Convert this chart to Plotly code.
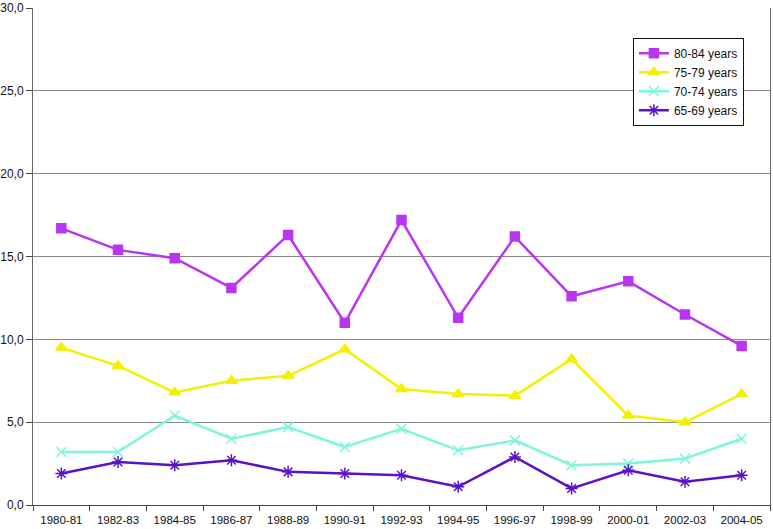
import plotly.graph_objects as go

categories = ["1980-81", "1982-83", "1984-85", "1986-87", "1988-89", "1990-91", "1992-93",
              "1994-95", "1996-97", "1998-99", "2000-01", "2002-03", "2004-05"]
y80_84 = [16.7, 15.4, 14.9, 13.1, 16.3, 11.0, 17.2, 11.3, 16.2, 12.6, 13.5, 11.5, 9.6]
y75_79 = [9.5, 8.4, 6.8, 7.5, 7.8, 9.4, 7.0, 6.7, 6.6, 8.8, 5.4, 5.0, 6.7]
y70_74 = [3.2, 3.2, 5.4, 4.0, 4.7, 3.5, 4.6, 3.3, 3.9, 2.4, 2.5, 2.8, 4.0]
y65_69 = [1.9, 2.6, 2.4, 2.7, 2.0, 1.9, 1.8, 1.1, 2.9, 1.0, 2.1, 1.4, 1.8]
y_ticks = [0, 5, 10, 15, 20, 25, 30]

series = [
    ("80-84 years", y80_84, "#B935F2", "square", 9),
    ("75-79 years", y75_79, "#F2F200", "triangle-up", 10),
    ("70-74 years", y70_74, "#7FF5DC", "x-thin-open", 10),
    ("65-69 years", y65_69, "#5A12C8", "asterisk-open", 10),
]

fig = go.Figure()
for name, vals, color, sym, size in series:
    fig.add_trace(go.Scatter(
        x=categories, y=vals, name=name, mode="lines+markers",
        line=dict(color=color, width=2.5),
        marker=dict(symbol=sym, size=size, color=color,
                    line=dict(color=color, width=1.5)),
    ))

fig.update_layout(
    width=773, height=529,
    margin=dict(l=33, r=3, t=8, b=24, autoexpand=False),
    paper_bgcolor="white", plot_bgcolor="white",
    separators=", ",
    font=dict(family="Liberation Sans, Arial, sans-serif", size=11, color="#111"),
    showlegend=True,
    legend=dict(x=0.814, y=0.94, xanchor="left", yanchor="top",
                bgcolor="white", bordercolor="#111", borderwidth=1,
                font=dict(size=12), tracegroupgap=0, itemwidth=30),
    xaxis=dict(type="category", range=[-0.5, 12.5], tickson="boundaries",
               ticks="outside", ticklen=5, tickcolor="#444",
               showline=True, linecolor="#444", linewidth=1,
               showgrid=False, automargin=False, tickfont=dict(size=11.5),
               ticklabelstandoff=4),
    yaxis=dict(range=[0, 30], tickvals=y_ticks, tickformat=".1f",
               ticks="outside", ticklen=6, tickcolor="#444",
               showline=True, linecolor="#666", linewidth=1, mirror=True,
               showgrid=True, gridcolor="#8a8a8a", gridwidth=1,
               zeroline=False, automargin=False, tickfont=dict(size=12)),
)

fig.write_html("out.html", config={"displayModeBar": False},
               post_script="document.body.style.margin='0px';document.body.style.overflow='hidden';")
